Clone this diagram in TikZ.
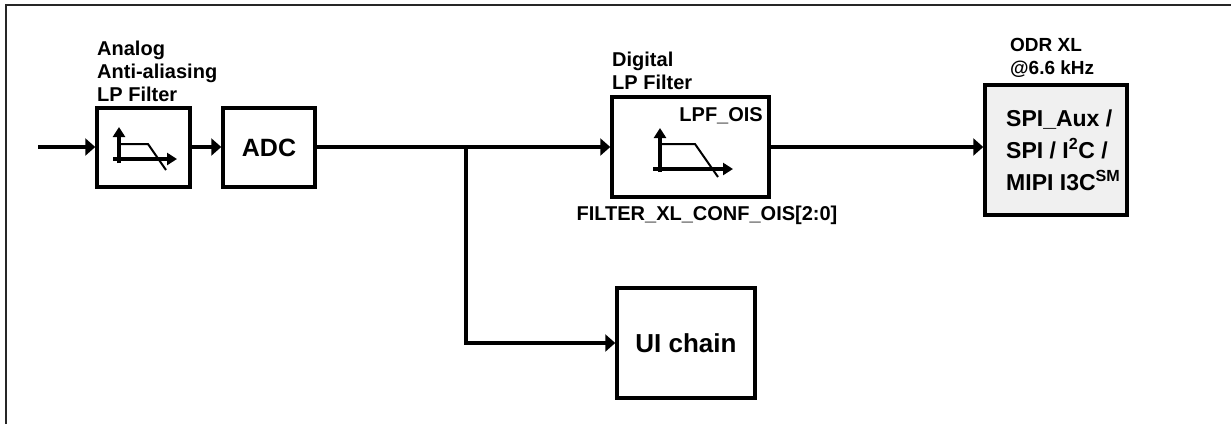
\documentclass[tikz,border=0pt]{standalone}
\usepackage{fontspec}
\setmainfont{Liberation Sans}
\usetikzlibrary{arrows.meta}
\begin{document}
\begin{tikzpicture}[x=1pt,y=-1pt,
  blockbox/.style={draw=black,line width=3.5pt,rectangle,inner sep=0pt,fill=white},
  lbl/.style={font=\bfseries\fontsize{20}{23}\selectfont,inner sep=0pt,align=left},
  conn/.style={line width=3.5pt,-{Triangle[length=10pt,width=17pt]}},
  wire/.style={line width=3.5pt},
  axis/.style={line width=3.5pt,-{Triangle[length=10pt,width=12pt]}},
  curve/.style={line width=2pt}]
\useasboundingbox (0,0) rectangle (1231,424);
% frame
\draw[line width=2.5pt,draw=black!85] (6,424) -- (6,5) -- (1231,5);
% blocks
\node[blockbox,minimum width=93pt,minimum height=79pt] (aaf) at (143.5,147.5) {};
\node[blockbox,minimum width=92pt,minimum height=79pt,font=\bfseries\fontsize{25}{28}\selectfont] (adc) at (269,147.5) {ADC};
\node[blockbox,minimum width=157pt,minimum height=100pt] (dlpf) at (690.5,147) {};
\node[blockbox,minimum width=138pt,minimum height=110pt,font=\bfseries\fontsize{26}{29}\selectfont] (ui) at (686,343) {UI chain};
\node[blockbox,fill=black!6,minimum width=142pt,minimum height=130pt] (spi) at (1056,150) {};
\node[anchor=west,inner sep=0pt,align=left,font=\bfseries\fontsize{23}{32}\selectfont] (spitxt) at (1006,150)
  {SPI\_Aux /\\SPI / I\textsuperscript{2}C /\\MIPI I3C\textsuperscript{SM}};
% labels
\node[lbl,anchor=south west] (aaflbl) at (97,102) {Analog\\Anti-aliasing\\LP Filter};
\node[lbl,anchor=south west] (dlpflbl) at (612,90) {Digital\\LP Filter};
\node[lbl,anchor=east] (lpfois) at (763,116) {LPF\_OIS};
\node[lbl,anchor=center] (conf) at (707,215) {FILTER\_XL\_CONF\_OIS[2:0]};
\node[lbl,anchor=south west,font=\bfseries\fontsize{19}{23}\selectfont] (odr) at (1010,78) {ODR XL\\@6.6 kHz};
% filter icons
\draw[axis] (119,163) -- (119,127);
\draw[axis] (113,159) -- (177,159);
\draw[curve] (119,144) -- (148,144) -- (166,170);
\draw[axis] (660,172) -- (660,128);
\draw[axis] (653,169) -- (733,169);
\draw[curve] (658,144) -- (695,144) -- (718,177);
% connectors
\coordinate (in) at (38,147);
\coordinate (br) at (466,147);
\draw[conn] (in) -- (in -| aaf.west);
\draw[conn] (aaf.east |- in) -- (adc.west |- in);
\draw[conn] (adc.east |- in) -- (dlpf.west |- in);
\draw[conn] (br) |- (ui.west);
\draw[conn] (dlpf.east |- in) -- (spi.west |- in);
\end{tikzpicture}
\end{document}
